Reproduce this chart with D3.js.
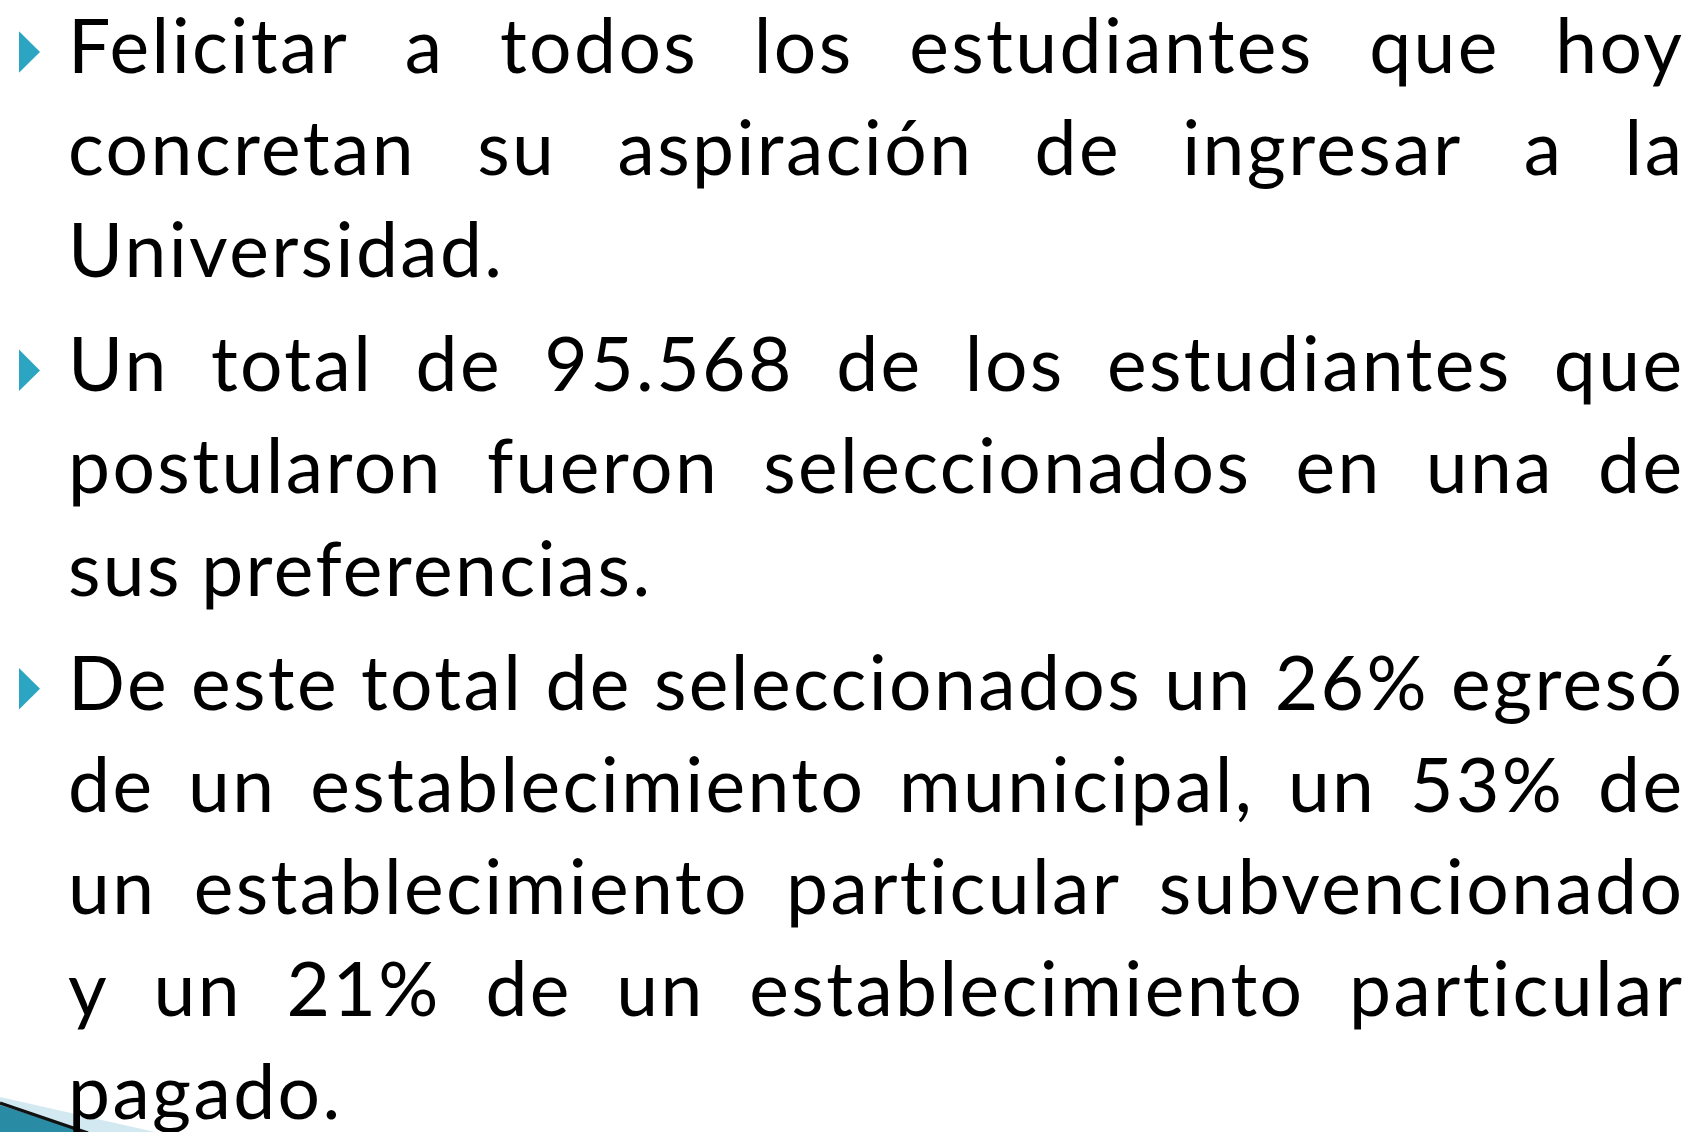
<!DOCTYPE html>
<html>
<head>
<meta charset="utf-8">
<script src="https://cdn.jsdelivr.net/npm/d3@7"></script>
<style>
  html, body { margin: 0; padding: 0; background: #fff; }
  svg { display: block; }
  text { font-variant-ligatures: none; }
</style>
</head>
<body>
<svg id="slide"></svg>
<script>
// bullet paragraphs, one array of lines each (as wrapped in the slide)
const para1 = [
    'Felicitar a todos los estudiantes que hoy',
    'concretan su aspiración de ingresar a la',
    'Universidad.'
];
const para2 = [
    'Un total de 95.568 de los estudiantes que',
    'postularon fueron seleccionados en una de',
    'sus preferencias.'
];
const para3 = [
    'De este total de seleccionados un 26% egresó',
    'de un establecimiento municipal, un 53% de',
    'un establecimiento particular subvencionado',
    'y un 21% de un establecimiento particular',
    'pagado.'
];
const paragraphs = [para1, para2, para3];

const width = 1688;
const height = 1132;
const textLeft = 68;
const textRight = 1682;
const fontSize = 75;
const letterSpacing = 2.4;

const svg = d3.select('#slide')
    .attr('width', width)
    .attr('height', height);

svg.append('rect')
    .attr('width', width)
    .attr('height', height)
    .attr('fill', '#ffffff');

// flatten paragraphs into lines with their indices
const lines = [];
paragraphs.forEach((p, pi) => {
    p.forEach((text, li) => {
        lines.push({ text, para: pi, first: li === 0, last: li === p.length - 1 });
    });
});

// baseline = line step plus a little extra between paragraphs
const lineY = d3.scaleLinear().domain([0, 1]).range([72.7, 175]);
const paraGap = 11.5;
const baseline = (d, i) => lineY(i) + d.para * paraGap;

// decorative shape in the bottom-left corner
svg.append('path')
    .attr('d', 'M0,1097 L155,1132 L0,1132 Z')
    .attr('fill', '#d3e9f1');
svg.append('path')
    .attr('d', 'M0,1105 L84,1132 L0,1132 Z')
    .attr('fill', '#2a8ba5');
svg.append('line')
    .attr('x1', 0).attr('y1', 1103)
    .attr('x2', 88).attr('y2', 1133)
    .attr('stroke', '#111')
    .attr('stroke-width', 3.2);

// bullets
svg.selectAll('path.bullet')
    .data(lines.map((d, i) => ({ d, i })).filter(o => o.d.first))
    .enter()
    .append('path')
    .attr('class', 'bullet')
    .attr('fill', '#2ba5c2')
    .attr('d', o => {
        const y = baseline(o.d, o.i);
        return `M19,${y - 41.5} L40,${y - 20.7} L19,${y} Z`;
    });

const styleText = sel => sel
    .attr('fill', '#000')
    .style('font-family', 'Lato, "Open Sans", sans-serif')
    .style('font-size', fontSize + 'px')
    .style('letter-spacing', letterSpacing + 'px');

// width of one space
const space = (() => {
    const t = svg.append('text').call(styleText).text('a a');
    const w2 = t.node().getComputedTextLength();
    t.text('aa');
    const w1 = t.node().getComputedTextLength();
    t.remove();
    return w2 - w1;
})();

// words, justified like the slide
lines.forEach((line, i) => {
    const words = line.text.split(' ');
    const texts = svg.append('g')
        .selectAll('text')
        .data(words)
        .enter()
        .append('text')
        .attr('y', baseline(line, i))
        .call(styleText)
        .text(w => w);

    const widths = texts.nodes().map(n => n.getComputedTextLength() - letterSpacing);
    const total = d3.sum(widths);
    const gap = (line.last || words.length < 2)
        ? space
        : (textRight - textLeft - total) / (words.length - 1);

    let x = textLeft;
    texts.attr('x', (w, k) => {
        const pos = x;
        x += widths[k] + gap;
        return pos;
    });
});
</script>
</body>
</html>
